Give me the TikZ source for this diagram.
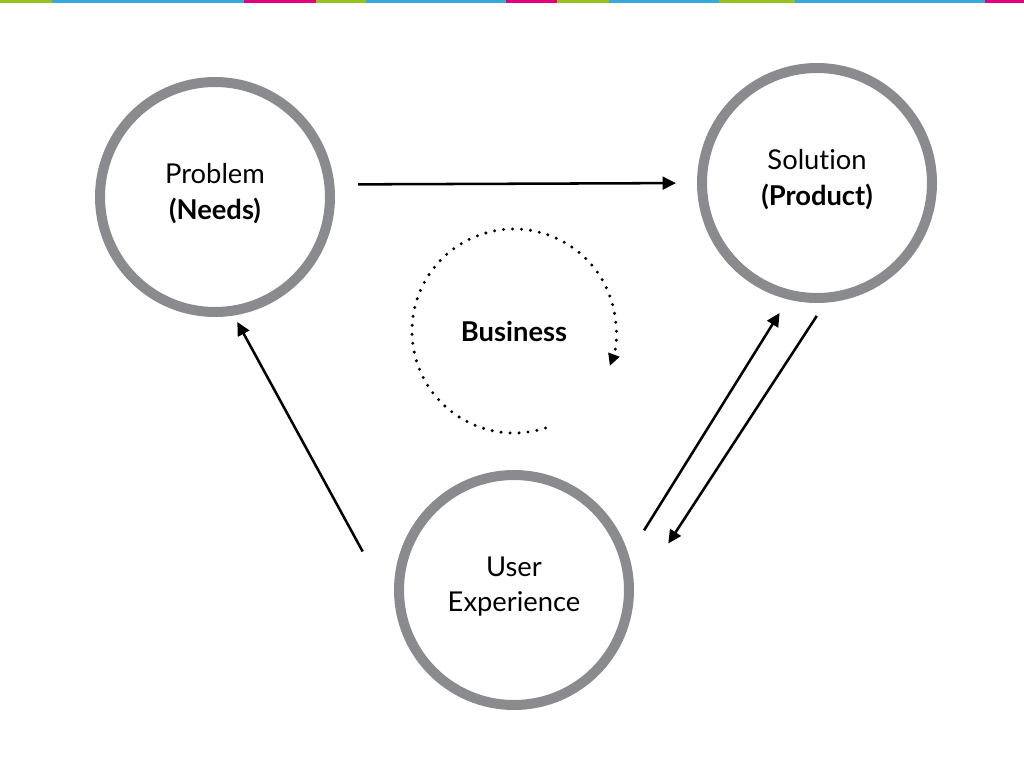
\documentclass[tikz,border=0pt]{standalone}
\usepackage{fontspec}
\setmainfont{Lato}[Ligatures=NoCommon]
\usetikzlibrary{arrows.meta}

\definecolor{ringgray}{RGB}{137,139,143}
\definecolor{stripgreen}{RGB}{149,193,31}
\definecolor{stripblue}{RGB}{54,169,221}
\definecolor{strippink}{RGB}{226,0,122}

\tikzset{
  ring/.style={circle, draw=ringgray, line width=7.5pt, minimum size=172.5pt,
    align=center, text depth=8.5pt, font=\fontsize{20.5}{26.5}\selectfont},
  link/.style={line width=1.9pt, -{Triangle[length=10pt,width=9.5pt]}},
  cycleline/.style={line width=2.5pt, dash pattern=on 0pt off 6.75pt, line cap=round,
    -{Triangle[length=9pt,width=8.5pt]}}
}

\begin{document}
\begin{tikzpicture}[x=0.75pt,y=0.75pt]
\useasboundingbox (0,0) rectangle (1024,-768);

% Top strip
\foreach \a/\b/\c in {0/52/stripgreen, 52/244/stripblue, 244/316/strippink,
  316/366/stripgreen, 366/506/stripblue, 506/557/strippink, 557/609/stripgreen,
  609/719/stripblue, 719/795/stripgreen, 795/985/stripblue, 985/1024/strippink}
  \fill[\c] (\a,0) rectangle (\b,-3);

% Circles
\node[ring] (problem) at (215,-197) {Problem\\\textbf{(Needs)}};
\node[ring] (solution) at (817,-183) {Solution\\\textbf{(Product)}};
\node[ring] (ux) at (514,-590) {User\\Experience};

% Business cycle
\node[font=\fontsize{20.5}{26.5}\selectfont\bfseries] (business) at (514,-331) {Business};
\draw[cycleline] (business.center) ++(288:102) arc[start angle=288, end angle=-20, radius=102];

% Arrows
\draw[link, shorten <=17.9pt, shorten >=15.75pt] (problem.6.7) -- (solution.180);
\draw[link, shorten <=52.5pt, shorten >=5.5pt] (ux.191.8) -- (problem.-81.1);
\draw[link, shorten <=21.7pt, shorten >=11.9pt] (ux.17.2) -- (solution.256.2);
\draw[link, shorten <=11.8pt, shorten >=47.3pt] (solution.-86.9) -- (ux.-3.3);

\end{tikzpicture}
\end{document}
